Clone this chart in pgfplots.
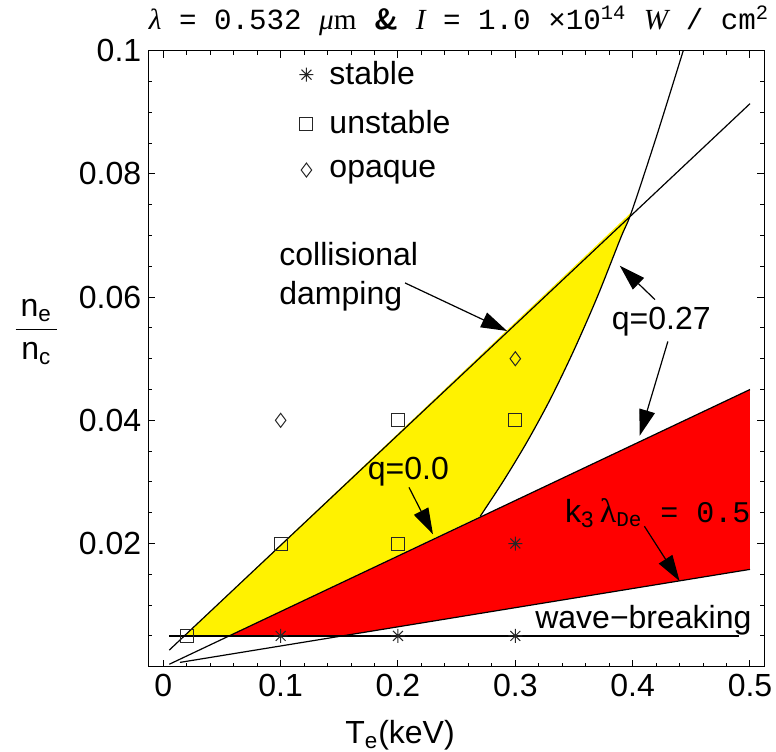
\documentclass[border=0pt]{standalone}
\usepackage{fontspec}
\setmainfont{Liberation Sans}
\setmonofont{Liberation Mono}
\newfontfamily\seriffont{Liberation Serif}
\usepackage{pgfplots}
\pgfplotsset{compat=1.18}
\usetikzlibrary{arrows.meta}
\pgfdeclareplotmark{ast8}{%
 \pgfpathmoveto{\pgfqpoint{0pt}{\pgfplotmarksize}}\pgfpathlineto{\pgfqpoint{0pt}{-\pgfplotmarksize}}%
 \pgfpathmoveto{\pgfqpoint{\pgfplotmarksize}{0pt}}\pgfpathlineto{\pgfqpoint{-\pgfplotmarksize}{0pt}}%
 \pgfpathmoveto{\pgfqpoint{0.7071\pgfplotmarksize}{0.7071\pgfplotmarksize}}\pgfpathlineto{\pgfqpoint{-0.7071\pgfplotmarksize}{-0.7071\pgfplotmarksize}}%
 \pgfpathmoveto{\pgfqpoint{-0.7071\pgfplotmarksize}{0.7071\pgfplotmarksize}}\pgfpathlineto{\pgfqpoint{0.7071\pgfplotmarksize}{-0.7071\pgfplotmarksize}}%
 \pgfusepathqstroke}
\begin{document}
\begin{tikzpicture}
\path[use as bounding box] (-74.15pt,-42.15pt) rectangle (313.85pt,333.35pt);
\begin{axis}[at={(0,0)}, anchor=south west, width=308pt, height=308pt, scale only axis,
  xmin=-0.0128, xmax=0.5122, ymin=0, ymax=0.1,
  xtick={0,0.1,0.2,0.3,0.4,0.5}, xticklabels={0,0.1,0.2,0.3,0.4,0.5},
  minor x tick num=4,
  ytick={0.02,0.04,0.06,0.08,0.1}, yticklabels={0.02,0.04,0.06,0.08,0.1},
  minor ytick={0.005,0.01,0.015,0.025,0.03,0.035,0.045,0.05,0.055,0.065,0.07,0.075,0.085,0.09,0.095},
  tick align=inside, major tick length=3.5pt, minor tick length=2pt,
  tick style={black, line width=0.5pt}, axis line style={line width=0.6pt},
  ticklabel style={font=\fontsize{16}{18}\selectfont},
  /pgf/number format/assume math mode=true,
  legend style={at={(rel axis cs:0.235,0.996)}, anchor=north west, draw=none, fill=none,
    font=\fontsize{16}{18}\selectfont, row sep=7.5pt,
    /tikz/every odd column/.append style={column sep=6pt}},
  legend cell align=left,
]
% filled regions
\addplot[fill=yellow, draw=none, forget plot] coordinates {
 (0.0179,0.005) (0.399,0.0738) (0.39,0.0697) (0.37,0.0601) (0.35,0.0514) (0.33,0.0435)
 (0.31,0.0365) (0.29,0.0302) (0.27,0.0244) (0.0557,0.005)} -- cycle;
\addplot[fill=red, draw=none, forget plot] coordinates {
 (0.0557,0.005) (0.5,0.0450) (0.5,0.0158) (0.1525,0.005)} -- cycle;
% lines
\addplot[black, line width=0.6pt, forget plot] coordinates {(0.0051,0.0027) (0.5,0.0914)};
\addplot[black, line width=0.6pt, forget plot] coordinates {(0.0051,0.0004) (0.5,0.0450)};
\addplot[black, line width=0.6pt, forget plot] coordinates {(0.0142,0.0007) (0.5,0.0158)};
\addplot[black, line width=0.6pt, forget plot] coordinates {(0.0051,0.005) (0.491,0.005)};
\addplot[black, line width=0.6pt, smooth, forget plot] coordinates {
 (0.27,0.0244) (0.29,0.0302) (0.31,0.0365) (0.33,0.0435) (0.35,0.0514) (0.37,0.0601)
 (0.39,0.0697) (0.399,0.0738) (0.42,0.0859) (0.4431,0.1)};
% markers
\addplot[only marks, mark=ast8, mark size=3.5pt, black!85, line width=0.5pt] coordinates {
 (0.1,0.005) (0.2,0.005) (0.3,0.005) (0.3,0.02)};
\addlegendentry{stable}
\addplot[only marks, mark=square, mark size=3.25pt, black!85, line width=0.5pt] coordinates {
 (0.02,0.005) (0.1,0.02) (0.2,0.02) (0.2,0.04) (0.3,0.04)};
\addlegendentry{unstable}
\addplot[only marks, mark=diamond, mark size=3.5pt, black!85, line width=0.5pt] coordinates {
 (0.1,0.04) (0.3,0.05)};
\addlegendentry{opaque}
% annotations
\tikzset{lab/.style={font=\fontsize{16}{18}\selectfont, inner sep=0pt, anchor=base west},
  arr/.style={-{Triangle[length=13pt,width=8pt]}, line width=0.6pt}}
\node[lab] at (axis cs:0.0986,0.0651) {collisional};
\node[lab] at (axis cs:0.0986,0.0588) {damping};
\draw[arr] (axis cs:0.206,0.0623) -- (axis cs:0.293,0.0545);
\node[lab] at (axis cs:0.382,0.0547) {q=0.27};
\draw[arr] (axis cs:0.419,0.0596) -- (axis cs:0.389,0.0651);
\draw[arr] (axis cs:0.430,0.0528) -- (axis cs:0.406,0.0375);
\node[lab] at (axis cs:0.174,0.0304) {q=0.0};
\draw[arr] (axis cs:0.2094,0.0291) -- (axis cs:0.2298,0.0215);
\node[lab] at (axis cs:0.342,0.0234) {k\textsubscript{3}\,{\seriffont\fontsize{17}{18}\selectfont λ}{\ttfamily\fontsize{15}{18}\selectfont\textsubscript{De} = 0.5}};
\draw[arr] (axis cs:0.410,0.0228) -- (axis cs:0.440,0.0139);
\node[lab] at (axis cs:0.3167,0.0062) {wave−breaking};
\end{axis}
\node[font=\fontsize{14.6}{18}\selectfont\ttfamily] at (155.35pt,323pt)
 {{\seriffont\itshape λ} = 0.532 {\seriffont\itshape μ}{\seriffont m} {\sffamily\bfseries\&} {\seriffont\itshape I} = 1.0 ×10\textsuperscript{14} {\seriffont\itshape W} / cm\textsuperscript{2}};
\node[font=\fontsize{16}{18}\selectfont] at (125.85pt,-34.15pt) {T\textsubscript{e}(keV)};
\node[font=\fontsize{16}{18}\selectfont, inner sep=0pt] at (-56pt,168pt)
 {\setlength{\tabcolsep}{2.5pt}\begin{tabular}{c}n\textsubscript{e}\\[1pt]\hline\rule{0pt}{15pt}n\textsubscript{c}\end{tabular}};
\end{tikzpicture}
\end{document}
